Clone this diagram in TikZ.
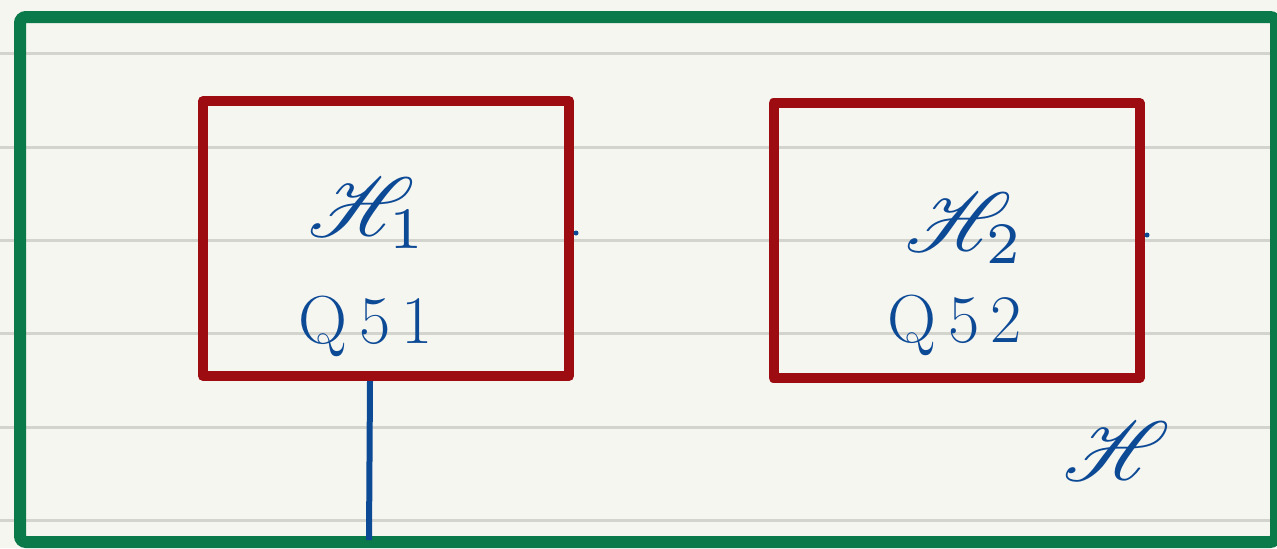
\documentclass[tikz,border=0pt]{standalone}
\usepackage{mathrsfs}
\definecolor{paper}{HTML}{F6F6F1}
\definecolor{rulegray}{HTML}{D4D4CF}
\definecolor{framegreen}{HTML}{0B7A4B}
\definecolor{boxred}{HTML}{9C0C10}
\definecolor{inkblue}{HTML}{0D4A96}
\begin{document}
\begin{tikzpicture}[x=0.5pt,y=-0.5pt,
    rule/.style={draw=rulegray,line width=1.5pt},
    redbox/.style={draw=boxred,line width=5pt,line join=round,
        minimum width=183pt,minimum height=137.5pt,inner sep=0pt},
    ink/.style={text=inkblue,inner sep=0pt,font=\fontsize{34}{40}\selectfont},
    bigink/.style={text=inkblue,inner sep=0pt,scale=4.2}]
    % paper
    \useasboundingbox[fill=paper] (0,0) rectangle (1277,548);
    \foreach \y in {53,147,240,333,427,520}
        \draw[rule] (0,\y) -- (1277,\y);
    % frame
    \draw[framegreen,line width=6pt,rounded corners=3pt] (20,17) rectangle (1276,542);
    % first part
    \node[redbox] (box1) at (386,238.5) {};
    \node[bigink] (h1) at (368,213) {$\mathscr{H}_1$};
    \node[ink] (q1) at (366,326) {Q\,5\,1};
    \fill[inkblue] (576,233) circle (2.5);
    % second part
    \node[redbox] (box2) at (956.5,240.5) {};
    \node[bigink] (h2) at (965,228) {$\mathscr{H}_2$};
    \node[ink] (q2) at (955,325) {Q\,5\,2};
    \fill[inkblue] (1147,235) circle (2.5);
    % whole space
    \node[bigink] (h) at (1117,451) {$\mathscr{H}$};
    \coordinate (down) at (369,540);
    \draw[inkblue,line width=3pt] (box1.south -| 370,0) -- (down);
\end{tikzpicture}
\end{document}
